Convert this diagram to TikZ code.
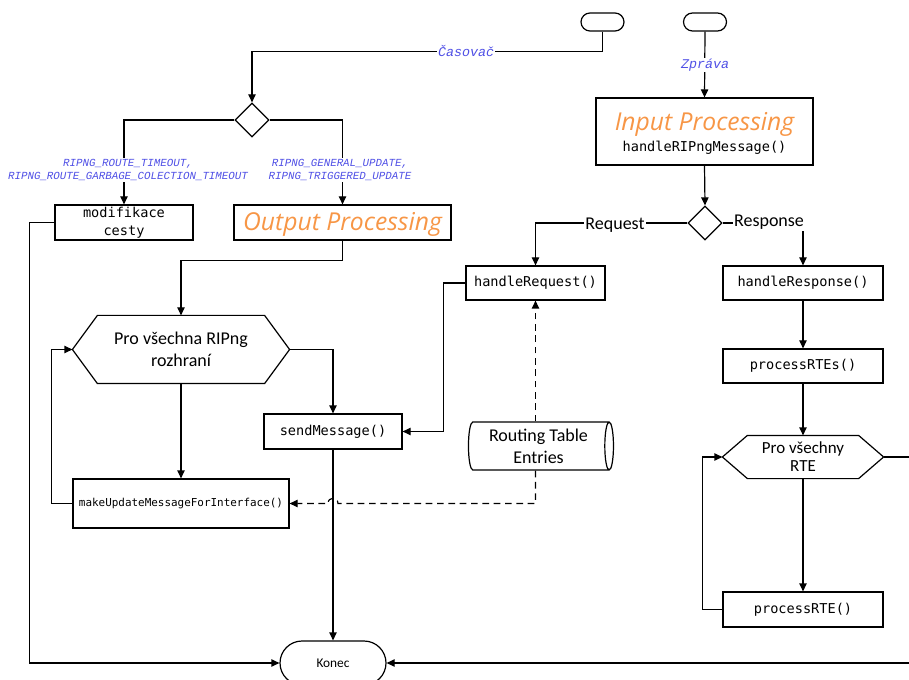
\documentclass[tikz,border=0pt]{standalone}
\usepackage{fontspec}
\setmainfont{Carlito}
\newfontfamily\codefont{DejaVu Sans Mono}
\newfontfamily\labelfont{Liberation Mono}
\newfontfamily\headfont{Open Sans}
\usetikzlibrary{arrows.meta,shapes.geometric,shapes.misc,calc}
\definecolor{lblblue}{RGB}{80,80,230}
\definecolor{procorange}{RGB}{247,150,70}
% outline of a loop (hexagon) box drawn around a named node
\newcommand\hexoutline[2]{%
  \draw ($(#1.north west)+(#2,0)$) -- ($(#1.north east)+(-#2,0)$) -- (#1.east)
    -- ($(#1.south east)+(-#2,0)$) -- ($(#1.south west)+(#2,0)$) -- (#1.west) -- cycle;}
\begin{document}
\begin{tikzpicture}[x=0.75pt,y=-0.75pt,line width=0.9pt,
  flow/.style={draw,-{Triangle[length=6pt,width=5.5pt]}},
  dflow/.style={flow,dash pattern=on 5pt off 3.5pt},
  codebox/.style={draw,rectangle,inner sep=0pt,align=center,
    font=\codefont\fontsize{10.2}{14}\selectfont},
  headbox/.style={draw,rectangle,inner sep=0pt,align=center},
  headtext/.style={inner sep=0pt,text=procorange,font=\headfont\itshape\fontsize{18.5}{22}\selectfont},
  hexarea/.style={rectangle,inner sep=0pt,align=center},
  decision/.style={draw,diamond,inner sep=0pt,minimum width=25.5pt,minimum height=25.5pt},
  terminal/.style={draw,rounded rectangle,inner sep=0pt},
  edgelbl/.style={fill=white,inner sep=1pt,text=lblblue,align=center},
  branchlbl/.style={fill=white,inner sep=1pt,font=\fontsize{13.5}{16}\selectfont}]
\useasboundingbox (0,0) rectangle (909,680);
\clip (0,0) rectangle (909,680);

% start and end terminals
\node[terminal,minimum width=32.25pt,minimum height=13.5pt] (tmr) at (602.5,22) {};
\node[terminal,minimum width=32.25pt,minimum height=13.5pt] (msg) at (705,22) {};
\node[terminal,minimum width=79.5pt,minimum height=33pt,font=\fontsize{10}{12}\selectfont] (konec) at (333,663) {Konec};

% output side
\node[decision] (dtmr) at (252,120) {};
\node[codebox,minimum width=103.5pt,minimum height=26.25pt,font=\codefont\fontsize{10.2}{13.5}\selectfont] (mod) at (124,222.5) {modifikace\\cesty};
\node[headbox,minimum width=162.75pt,minimum height=26.25pt] (out) at (342.5,222.5) {};
\node[headtext] (outt) at (342.5,224) {Output Processing};
\node[hexarea,minimum width=162pt,minimum height=50.25pt,font=\fontsize{13.5}{16.5}\selectfont] (ifc) at (181,349.5) {Pro všechna RIPng\\rozhraní};
\hexoutline{ifc}{25}
\node[codebox,minimum width=103.5pt,minimum height=26.25pt] (send) at (333,431.5) {sendMessage()};
\node[codebox,minimum width=162pt,minimum height=36.75pt,font=\codefont\fontsize{8.2}{10}\selectfont] (make) at (181,503.5) {makeUpdateMessageForInterface()};

% input side
\node[headbox,minimum width=162.75pt,minimum height=50.25pt] (inp) at (704.5,131.5) {};
\node[headtext] (inpt) at (704.5,124.5) {Input Processing};
\node[inner sep=0pt,font=\codefont\fontsize{10.2}{13}\selectfont] (inpf) at (704.5,148) {handleRIPngMessage()};
\node[decision] (dmsg) at (705,223) {};
\node[codebox,minimum width=104.25pt,minimum height=25.5pt] (hreq) at (535.5,283) {handleRequest()};
\node[codebox,minimum width=120pt,minimum height=25.5pt] (hresp) at (803,283) {handleResponse()};
\node[codebox,minimum width=120pt,minimum height=25.5pt] (rtes) at (803,366) {processRTEs()};
\node[hexarea,minimum width=120pt,minimum height=31.5pt,font=\fontsize{12.7}{13.5}\selectfont] (each) at (803,457) {Pro všechny\\RTE};
\hexoutline{each}{25}
\node[codebox,minimum width=120pt,minimum height=26.25pt] (rte1) at (803,609.5) {processRTE()};
\node[draw,cylinder,shape aspect=0.25,inner sep=0pt,minimum width=36pt,minimum height=108.75pt,
  align=center,font=\fontsize{13.5}{16.5}\selectfont] (tab) at (538.5,446) {Routing Table\\Entries};

% timer branch
\draw[flow] (tmr.south) -- ++(0,20) -| (dtmr.north);
\node[edgelbl,font=\labelfont\itshape\fontsize{10}{12}\selectfont] (ltmr) at (466,51) {Časovač};
\draw[flow] (dtmr.west) -| (mod.north);
\draw[flow] (dtmr.east) -| (out.north);
\node[edgelbl,font=\labelfont\itshape\fontsize{8.1}{9.75}\selectfont] (lto) at (128,170)
  {RIPNG\_ROUTE\_TIMEOUT,\\RIPNG\_ROUTE\_GARBAGE\_COLECTION\_TIMEOUT};
\node[edgelbl,font=\labelfont\itshape\fontsize{8.1}{9.75}\selectfont] (lupd) at (340,170)
  {RIPNG\_GENERAL\_UPDATE,\\RIPNG\_TRIGGERED\_UPDATE};
\draw[flow] (out.south) -- ++(0,20) -| (ifc.north);
\draw[flow] (ifc.east) -| (send.north);
\draw[flow] (ifc.south) -- (make.north);
\draw[flow] (make.west) -- ++(-21,0) |- (ifc.west);
\draw[flow] (send.south) -- (konec.north);
\draw[flow] (mod.west) -- ++(-25,0) |- (konec.west);

% message branch
\draw[flow] (msg.south) -- (inp.north);
\node[edgelbl,font=\labelfont\itshape\fontsize{10}{12}\selectfont] (lmsg) at (705,65) {Zpráva};
\draw[flow] (inp.south) -- (dmsg.north);
\draw[flow] (dmsg.west) -| (hreq.north);
\node[branchlbl] (lreq) at (615,225) {Request};
\draw[flow] (dmsg.east) -| (hresp.north);
\node[branchlbl] (lresp) at (769,222) {Response};
\draw[flow] (hreq.west) -- ++(-22,0) |- (send.east);
\draw[flow] (hresp.south) -- (rtes.north);
\draw[flow] (rtes.south) -- (each.north);
\draw[flow] (each.south) -- (rte1.north);
\draw[flow] (rte1.west) -- ++(-20,0) |- (each.west);
\draw[flow] (each.east) -- ++(60,0) |- (konec.east);

% routing table reads
\draw[dflow] (tab.north -| hreq.south) -- (hreq.south);
\coordinate (hop) at (make.east -| send.south);
\draw[dflow] (tab.south -| hreq.south) |- ($(hop)+(5,0)$)
  .. controls +(0,-7) and +(0,-7) .. ($(hop)+(-5,0)$) -- (make.east);
\end{tikzpicture}
\end{document}
